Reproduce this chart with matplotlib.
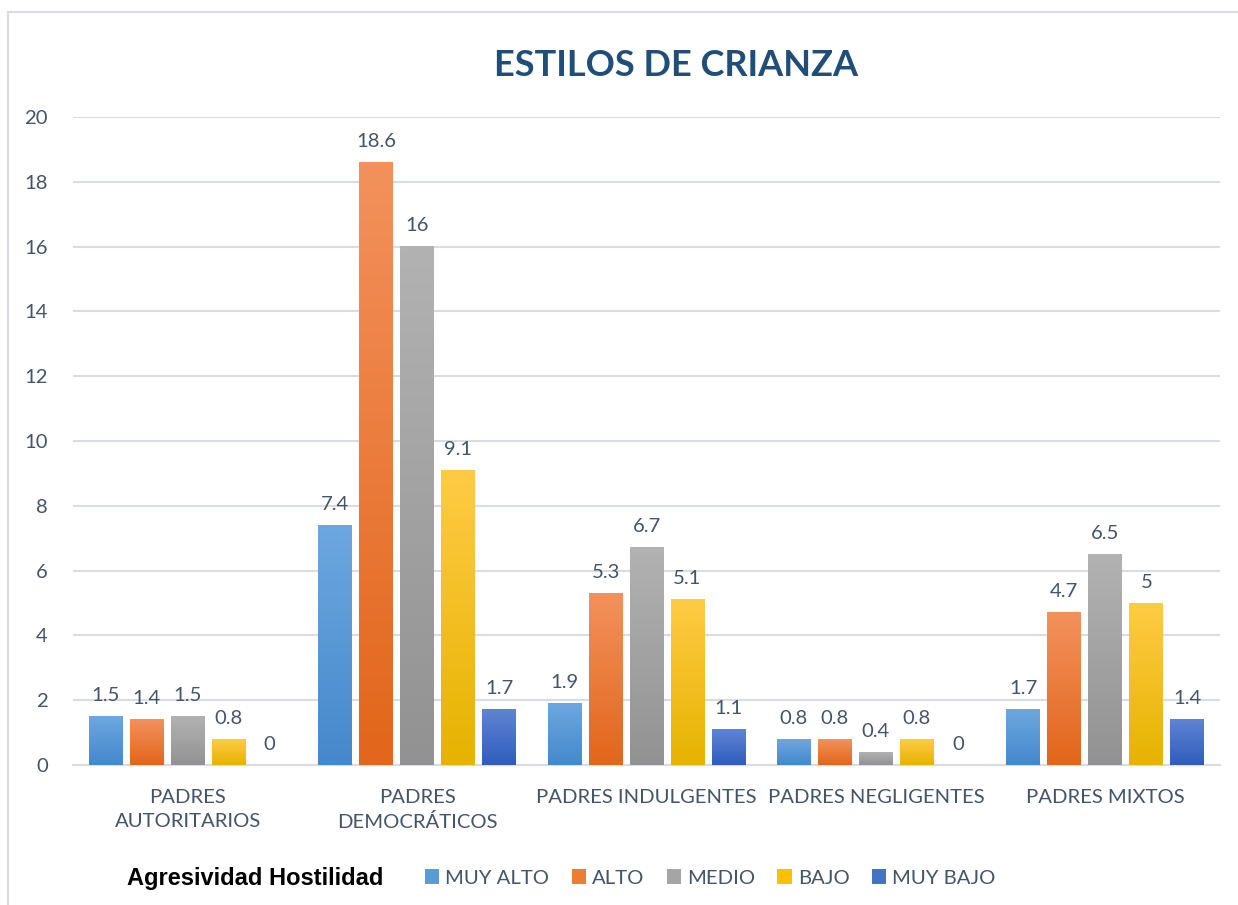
import numpy as np
import matplotlib
matplotlib.use('Agg')
import matplotlib.pyplot as plt
from matplotlib.patches import Patch, Rectangle
from matplotlib.colors import to_rgb

# 数据
categories = ['PADRES\nAUTORITARIOS', 'PADRES\nDEMOCRÁTICOS', 'PADRES INDULGENTES',
              'PADRES NEGLIGENTES', 'PADRES MIXTOS']
series_names = ['MUY ALTO', 'ALTO', 'MEDIO', 'BAJO', 'MUY BAJO']
muy_alto = [1.5, 7.4, 1.9, 0.8, 1.7]
alto = [1.4, 18.6, 5.3, 0.8, 4.7]
medio = [1.5, 16, 6.7, 0.4, 6.5]
bajo = [0.8, 9.1, 5.1, 0.8, 5]
muy_bajo = [0, 1.7, 1.1, 0, 1.4]
y_ticks = [0, 2, 4, 6, 8, 10, 12, 14, 16, 18, 20]

series = [muy_alto, alto, medio, bajo, muy_bajo]
# (顶部颜色, 底部颜色)
grad_colors = [('#6ca7e0', '#4688cb'),
               ('#f3915c', '#e2661b'),
               ('#b2b2b2', '#929292'),
               ('#ffcb45', '#e6b300'),
               ('#5f84d3', '#2f5dbd')]
legend_colors = ['#5b9bd5', '#ed7d31', '#a5a5a5', '#ffc000', '#4472c4']

text_color = '#44546a'
grid_color = '#d9dde3'
font = 'Lato'
fs = 14.6

fig = plt.figure(figsize=(12.38, 9.05), dpi=100)
fig.patches.append(Rectangle((8 / 1238, -0.2), 1.2, 1.2 - 12 / 905, transform=fig.transFigure,
                             fill=False, edgecolor='#d9dde3', lw=1.5, zorder=0))
ax = fig.add_axes([73 / 1238, 1 - 765 / 905, (1220 - 73) / 1238, (765 - 117) / 905])

x = np.arange(len(categories))
bar_w = 0.148
step = 0.1787

for i, vals in enumerate(series):
    bars = ax.bar(x + (i - 2) * step, vals, width=bar_w, color='none', zorder=3)
    top_c, bot_c = to_rgb(grad_colors[i][0]), to_rgb(grad_colors[i][1])
    grad = np.linspace(0, 1, 64)[:, None, None]
    img = (1 - grad) * np.array(top_c) + grad * np.array(bot_c)
    for b, v in zip(bars, vals):
        if v > 0:
            x0 = b.get_x()
            ax.imshow(img, extent=[x0, x0 + b.get_width(), 0, b.get_height()],
                      aspect='auto', zorder=3, interpolation='bilinear')
        ax.annotate(f'{v:g}', (b.get_x() + b.get_width() / 2, v), xytext=(0, 9),
                    textcoords='offset points', ha='center', va='bottom',
                    fontsize=fs, color=text_color, family=font)

ax.set_xlim(-0.5, len(categories) - 0.5)
ax.set_ylim(0, 20)
ax.set_yticks(y_ticks)
ax.set_xticks(x)
ax.set_xticklabels(categories, fontsize=fs, color=text_color, family=font, linespacing=1.5)
for lab in ax.get_yticklabels():
    lab.set_fontsize(fs)
    lab.set_color(text_color)
    lab.set_family(font)
ax.tick_params(axis='both', length=0)
ax.tick_params(axis='y', pad=18)
ax.tick_params(axis='x', pad=17)
ax.yaxis.grid(True, color=grid_color, lw=1.5, zorder=0)
ax.set_axisbelow(True)
for s in ['top', 'right', 'left']:
    ax.spines[s].set_visible(False)
ax.spines['bottom'].set_color(grid_color)
ax.spines['bottom'].set_linewidth(1.5)

fig.text(676 / 1238, 1 - 65 / 905, 'ESTILOS DE CRIANZA', ha='center', va='center',
         fontsize=26, fontweight='bold', color='#1f4e79', family=font)

fig.text(127 / 1238, 1 - 878 / 905, 'Agresividad Hostilidad', ha='left', va='center',
         fontsize=17, fontweight='bold', color='black', family='Liberation Sans')

handles = [Patch(facecolor=c, edgecolor='none') for c in legend_colors]
leg = fig.legend(handles, series_names, loc='center left', ncol=5,
                 bbox_to_anchor=(417 / 1238, 1 - 878 / 905), frameon=False,
                 handlelength=0.7, handleheight=0.7, handletextpad=0.3,
                 columnspacing=1.1, borderaxespad=0,
                 prop={'family': font, 'size': fs})
for t in leg.get_texts():
    t.set_color(text_color)

fig.savefig('out.png', dpi=100)
